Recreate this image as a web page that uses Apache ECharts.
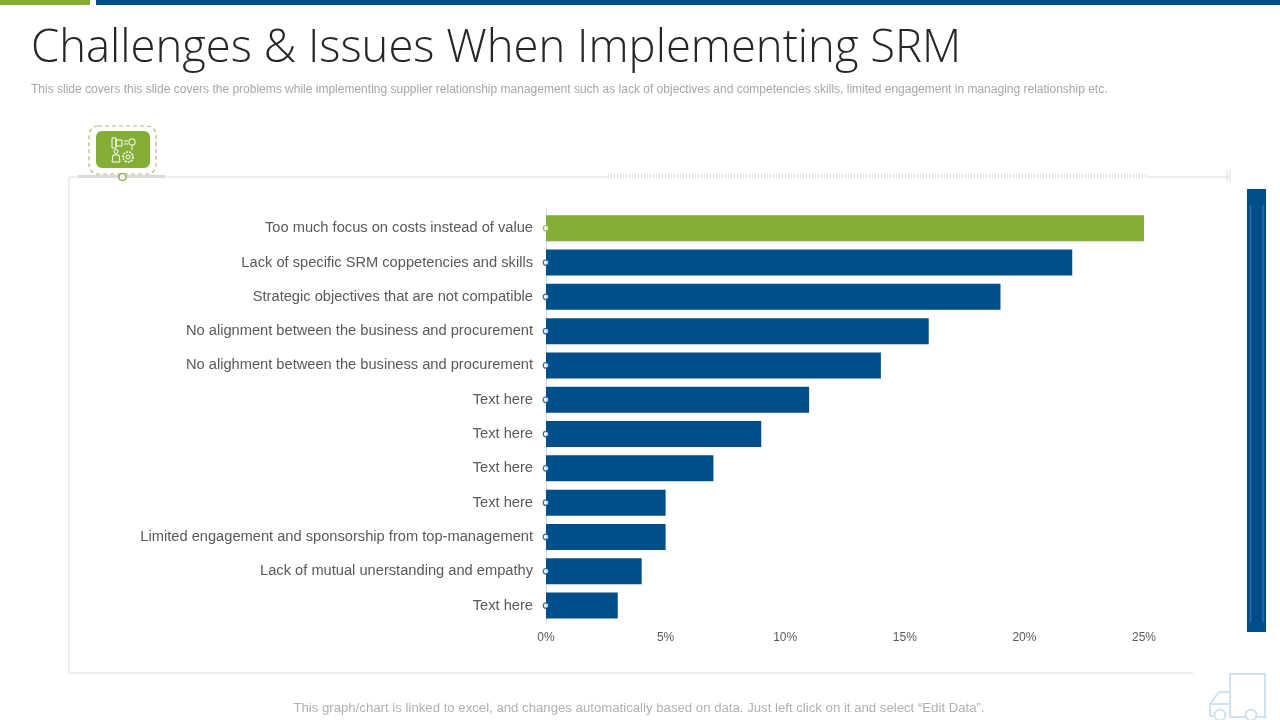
<!DOCTYPE html>
<html>
<head>
<meta charset="utf-8">
<title>Challenges & Issues When Implementing SRM</title>
<script src="https://cdn.jsdelivr.net/npm/echarts@6/dist/echarts.min.js"></script>
<style>
  html, body { margin: 0; padding: 0; background: #fff; }
  #chart { width: 1280px; height: 720px; }
</style>
</head>
<body>
<div id="chart"></div>
<script>
const categories = [
  'Too much focus on costs instead of value',
  'Lack of specific SRM coppetencies and skills',
  'Strategic objectives that are not compatible',
  'No alignment between the business and procurement',
  'No alighment between the business and procurement',
  'Text here',
  'Text here',
  'Text here',
  'Text here',
  'Limited engagement and sponsorship from top-management',
  'Lack of mutual unerstanding and empathy',
  'Text here'
];
const values = [25, 22, 19, 16, 14, 11, 9, 7, 5, 5, 4, 3];
const highlighted = 'Too much focus on costs instead of value';

const BLUE = '#004f8b';
const GREEN = '#84ae35';
const LINE = '#e8e8e8';
const ICON = '#cfe2f3';

const chart = echarts.init(document.getElementById('chart'));

const stroke = (color, lineWidth, extra) => Object.assign({ stroke: color, lineWidth: lineWidth, fill: 'none' }, extra);
const line = (x1, y1, x2, y2, color, width, extra) => ({
  type: 'line', silent: true,
  shape: { x1, y1, x2, y2 },
  style: stroke(color, width, extra)
});

// slide furniture around the chart
const decorations = [
  { type: 'rect', shape: { x: 0, y: 0, width: 90, height: 5 }, style: { fill: GREEN } },
  { type: 'rect', shape: { x: 96, y: 0, width: 1184, height: 5 }, style: { fill: BLUE } },

  // panel frame
  line(69, 177, 69, 673, LINE, 1.5),
  line(69, 673, 1193, 673, LINE, 1.5),
  line(69, 177, 608, 177, LINE, 1.5),
  line(608, 176, 1148, 176, '#dedede', 4, { lineDash: [1, 2] }),
  line(1148, 177, 1230, 177, LINE, 1.5),
  line(1227, 170, 1227, 182, '#dcdcdc', 1),
  line(1230, 170, 1230, 182, '#dcdcdc', 1),

  // icon badge
  line(78, 176.5, 165, 176.5, '#d9d9d9', 3),
  { type: 'rect', shape: { x: 89, y: 126, width: 67, height: 48, r: 9 },
    style: stroke('#a3bf74', 1.2, { lineDash: [4, 3] }) },
  { type: 'rect', shape: { x: 96, y: 131, width: 54, height: 37, r: 6 }, style: { fill: GREEN } },
  { type: 'circle', shape: { cx: 122.5, cy: 177, r: 3.5 }, style: { fill: '#fff', stroke: '#7ba53a', lineWidth: 1.2 } },
  { type: 'rect', shape: { x: 112, y: 138, width: 4, height: 10 }, style: stroke('#fff', 1) },
  { type: 'rect', shape: { x: 116, y: 140, width: 6, height: 6 }, style: stroke('#fff', 1) },
  line(124, 141, 128, 141, '#fff', 1),
  line(124, 144, 128, 144, '#fff', 1),
  { type: 'rect', shape: { x: 129, y: 139, width: 6, height: 6, r: 2 }, style: stroke('#fff', 1) },
  line(132, 145, 132, 150, '#fff', 1),
  { type: 'circle', shape: { cx: 128, cy: 157, r: 5 }, style: stroke('#fff', 1.6, { lineDash: [2, 1] }) },
  { type: 'circle', shape: { cx: 128, cy: 157, r: 2 }, style: stroke('#fff', 1) },
  { type: 'circle', shape: { cx: 116, cy: 151.5, r: 2 }, style: stroke('#fff', 1) },
  { type: 'polyline', shape: { points: [[112, 162], [113, 155], [119, 155], [120, 162], [112, 162]] }, style: stroke('#fff', 1) },

  // side bar on the right
  { type: 'rect', shape: { x: 1247, y: 189, width: 19, height: 443 }, style: { fill: BLUE } },
  line(1250.5, 205, 1250.5, 622, '#2a6fa6', 1.5),
  line(1263, 205, 1263, 622, '#2a6fa6', 1.5),

  // truck outline, bottom right
  { type: 'rect', shape: { x: 1230, y: 674, width: 35, height: 43 }, style: stroke(ICON, 2) },
  { type: 'polyline', shape: { points: [[1230, 692], [1219, 692], [1210, 704], [1210, 716], [1214, 716]] }, style: stroke(ICON, 2) },
  line(1210, 704, 1230, 704, ICON, 2),
  { type: 'circle', shape: { cx: 1220, cy: 715, r: 5.5 }, style: { fill: '#fff', stroke: ICON, lineWidth: 2 } },
  { type: 'circle', shape: { cx: 1251, cy: 715, r: 5.5 }, style: { fill: '#fff', stroke: ICON, lineWidth: 2 } },

  // slide texts
  { type: 'text', x: 31, y: 49, style: {
      text: 'Challenges & Issues When Implementing SRM',
      font: '300 45.4px "Open Sans"', fill: '#262626', verticalAlign: 'middle' } },
  { type: 'text', x: 31, y: 89.5, style: {
      text: 'This slide covers this slide covers the problems while implementing supplier relationship management such as lack of objectives and competencies skills, limited engagement in managing relationship etc.',
      font: '12px "Liberation Sans"', fill: '#a6a6a6', verticalAlign: 'middle' } },
  { type: 'text', x: 639, y: 708.5, style: {
      text: 'This graph/chart is linked to excel, and changes automatically based on data. Just left click on it and select \u201CEdit Data\u201D.',
      font: '13.2px "Liberation Sans"', fill: '#b0b0b0', align: 'center', verticalAlign: 'middle' } }
];

chart.setOption({
  animation: false,
  backgroundColor: '#fff',
  textStyle: { fontFamily: 'Liberation Sans' },
  grid: { left: 546, top: 211.1, width: 598, height: 411.6, containLabel: false },
  xAxis: {
    type: 'value',
    min: 0,
    max: 25,
    interval: 5,
    axisLine: { show: false },
    axisTick: { show: false },
    splitLine: { show: false },
    axisLabel: { formatter: '{value}%', color: '#595959', fontSize: 12, margin: 9 }
  },
  yAxis: {
    type: 'category',
    inverse: true,
    data: categories,
    axisLine: { show: true, lineStyle: { color: '#c5d9e8', width: 1 } },
    axisTick: { show: false },
    axisLabel: { color: '#595959', fontSize: 14.67, margin: 13 }
  },
  series: [
    {
      type: 'bar',
      barWidth: 26,
      data: values.map((v, i) => ({
        value: v,
        itemStyle: { color: categories[i] === highlighted ? GREEN : BLUE }
      }))
    },
    {
      // little ring markers sitting on the axis
      type: 'scatter',
      symbol: 'circle',
      symbolSize: 5.5,
      z: 5,
      data: values.map((v, i) => ({
        value: [0, i],
        itemStyle: {
          color: '#fff',
          borderWidth: 1.2,
          borderColor: categories[i] === highlighted ? GREEN : BLUE
        }
      }))
    }
  ],
  graphic: { elements: decorations }
});
</script>
</body>
</html>
